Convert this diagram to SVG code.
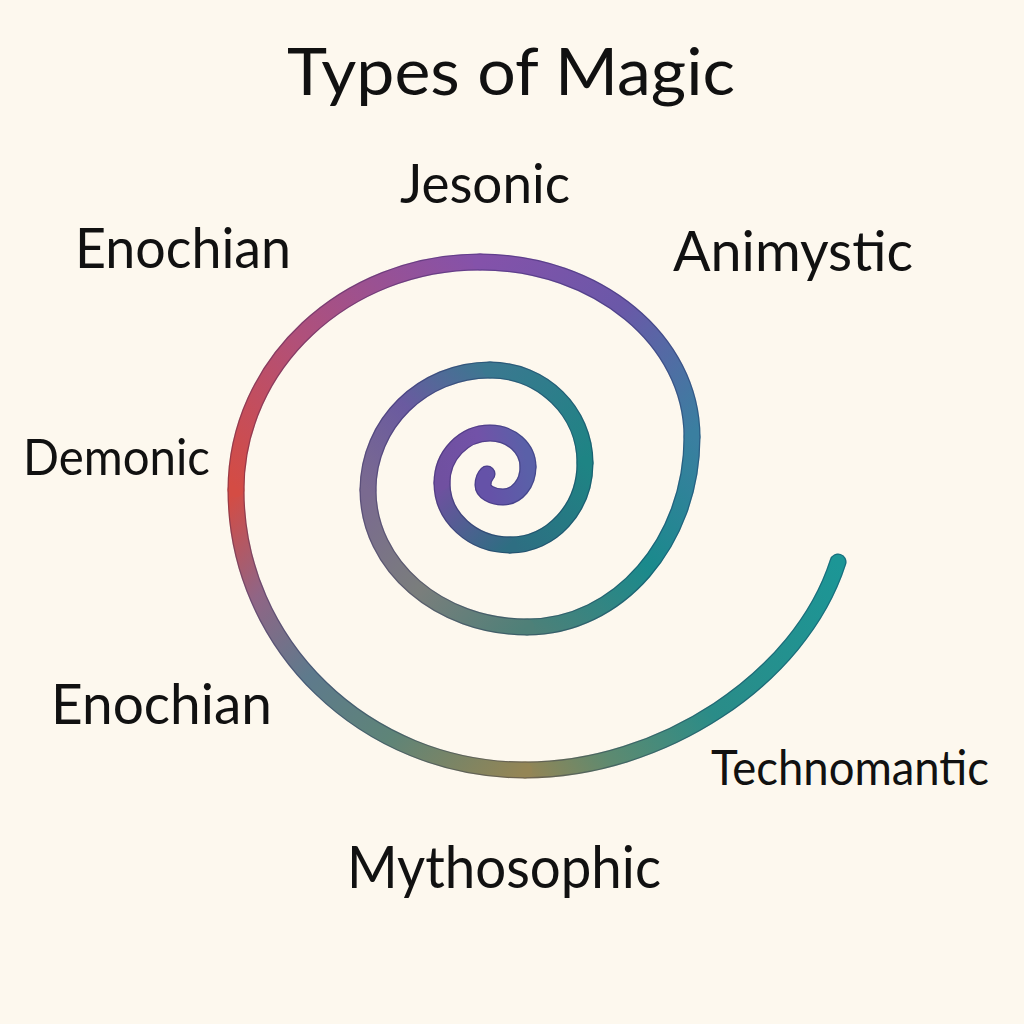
<svg xmlns="http://www.w3.org/2000/svg" width="1024" height="1024" viewBox="0 0 1024 1024">
<defs>
<style>
.lbl{font-family:Lato,"Open Sans","Liberation Sans",sans-serif;fill:#111;}
.seg{fill:none;stroke-linecap:round;stroke-linejoin:round;}
.under{stroke-width:17;}
.shade{stroke:#0a0a40;stroke-opacity:0.28;stroke-width:17;fill:none;stroke-linecap:round;}
.top{stroke-width:14.5;}
</style>
<linearGradient id="g0" gradientUnits="userSpaceOnUse" x1="838" y1="562" x2="525" y2="770"><stop offset="0" stop-color="#1c9696"/><stop offset="0.5" stop-color="#2a8c88"/><stop offset="0.8" stop-color="#5e8a70"/><stop offset="1" stop-color="#948555"/></linearGradient>
<linearGradient id="g1" gradientUnits="userSpaceOnUse" x1="525" y1="770" x2="236" y2="490"><stop offset="0" stop-color="#948555"/><stop offset="0.3" stop-color="#5e8478"/><stop offset="0.55" stop-color="#5e7a8c"/><stop offset="0.78" stop-color="#906585"/><stop offset="1" stop-color="#d44c44"/></linearGradient>
<linearGradient id="g2" gradientUnits="userSpaceOnUse" x1="236" y1="490" x2="480" y2="262"><stop offset="0" stop-color="#d44c44"/><stop offset="0.45" stop-color="#b0507a"/><stop offset="1" stop-color="#8452aa"/></linearGradient>
<linearGradient id="g3" gradientUnits="userSpaceOnUse" x1="480" y1="262" x2="692" y2="437"><stop offset="0" stop-color="#8452aa"/><stop offset="0.5" stop-color="#6a58a8"/><stop offset="1" stop-color="#3a7fa0"/></linearGradient>
<linearGradient id="g4" gradientUnits="userSpaceOnUse" x1="692" y1="437" x2="527" y2="627"><stop offset="0" stop-color="#3a7fa0"/><stop offset="0.5" stop-color="#1a8a8c"/><stop offset="1" stop-color="#4e8078"/></linearGradient>
<linearGradient id="g5" gradientUnits="userSpaceOnUse" x1="527" y1="627" x2="368" y2="490"><stop offset="0" stop-color="#4e8078"/><stop offset="0.5" stop-color="#7a7e7c"/><stop offset="1" stop-color="#7a6a90"/></linearGradient>
<linearGradient id="g6" gradientUnits="userSpaceOnUse" x1="368" y1="490" x2="490" y2="370"><stop offset="0" stop-color="#7a6a90"/><stop offset="0.5" stop-color="#6a5aa0"/><stop offset="1" stop-color="#3a7890"/></linearGradient>
<linearGradient id="g7" gradientUnits="userSpaceOnUse" x1="490" y1="370" x2="585" y2="463"><stop offset="0" stop-color="#3a7890"/><stop offset="1" stop-color="#1e8484"/></linearGradient>
<linearGradient id="g8" gradientUnits="userSpaceOnUse" x1="585" y1="463" x2="510" y2="545"><stop offset="0" stop-color="#1e8484"/><stop offset="1" stop-color="#2e6e82"/></linearGradient>
<linearGradient id="g9" gradientUnits="userSpaceOnUse" x1="510" y1="545" x2="442" y2="483"><stop offset="0" stop-color="#2e6e82"/><stop offset="1" stop-color="#7050a0"/></linearGradient>
<linearGradient id="g10" gradientUnits="userSpaceOnUse" x1="442" y1="483" x2="528" y2="467"><stop offset="0" stop-color="#7050a0"/><stop offset="0.5" stop-color="#7252a8"/><stop offset="1" stop-color="#5a60a8"/></linearGradient>
<linearGradient id="g11" gradientUnits="userSpaceOnUse" x1="528" y1="467" x2="487" y2="474"><stop offset="0" stop-color="#5a60a8"/><stop offset="1" stop-color="#6552a8"/></linearGradient>
<path id="s0" d="M838,562 C800,680 660,770 525,770"/>
<path id="s1" d="M525,770 C365.5,770 236,644.6 236,490"/>
<path id="s2" d="M236,490 C236,364.1 345.3,262 480,262"/>
<path id="s3" d="M480,262 C597,262 692,340.4 692,437"/>
<path id="s4" d="M692,437 C692,541.9 618.1,627 527,627"/>
<path id="s5" d="M527,627 C439.2,627 368,565.6 368,490"/>
<path id="s6" d="M368,490 C368,423.8 422.7,370 490,370"/>
<path id="s7" d="M490,370 C542.4,370 585,411.7 585,463"/>
<path id="s8" d="M585,463 C585,508.3 551.4,545 510,545"/>
<path id="s9" d="M510,545 C472.5,545 442,517.2 442,483"/>
<path id="s10" d="M442,483 C442,455.4 463.5,433 490,433 C511,433 528,448.2 528,467"/>
<path id="s11" d="M528,467 C528,483.6 516.8,497 503,497 C492,497 483,491.6 483,485 C483,480 485,476 487,474"/>
</defs>
<rect width="1024" height="1024" fill="#fdf8ee"/>
<g id="title"><text class="lbl" x="287" y="95" font-size="66" textLength="448" lengthAdjust="spacingAndGlyphs">Types of Magic</text></g>
<g id="spiral">
<g id="spiral-outline">
<use href="#s0" class="seg under" stroke="url(#g0)"/>
<use href="#s1" class="seg under" stroke="url(#g1)"/>
<use href="#s2" class="seg under" stroke="url(#g2)"/>
<use href="#s3" class="seg under" stroke="url(#g3)"/>
<use href="#s4" class="seg under" stroke="url(#g4)"/>
<use href="#s5" class="seg under" stroke="url(#g5)"/>
<use href="#s6" class="seg under" stroke="url(#g6)"/>
<use href="#s7" class="seg under" stroke="url(#g7)"/>
<use href="#s8" class="seg under" stroke="url(#g8)"/>
<use href="#s9" class="seg under" stroke="url(#g9)"/>
<use href="#s10" class="seg under" stroke="url(#g10)"/>
<use href="#s11" class="seg under" stroke="url(#g11)"/>
<path class="shade" d="M838,562 C800,680 660,770 525,770 C365.5,770 236,644.6 236,490 C236,364.1 345.3,262 480,262 C597,262 692,340.4 692,437 C692,541.9 618.1,627 527,627 C439.2,627 368,565.6 368,490 C368,423.8 422.7,370 490,370 C542.4,370 585,411.7 585,463 C585,508.3 551.4,545 510,545 C472.5,545 442,517.2 442,483 C442,455.4 463.5,433 490,433 C511,433 528,448.2 528,467 C528,483.6 516.8,497 503,497 C492,497 483,491.6 483,485 C483,480 485,476 487,474"/>
</g>
<g id="spiral-body">
<use href="#s0" class="seg top" stroke="url(#g0)"/>
<use href="#s1" class="seg top" stroke="url(#g1)"/>
<use href="#s2" class="seg top" stroke="url(#g2)"/>
<use href="#s3" class="seg top" stroke="url(#g3)"/>
<use href="#s4" class="seg top" stroke="url(#g4)"/>
<use href="#s5" class="seg top" stroke="url(#g5)"/>
<use href="#s6" class="seg top" stroke="url(#g6)"/>
<use href="#s7" class="seg top" stroke="url(#g7)"/>
<use href="#s8" class="seg top" stroke="url(#g8)"/>
<use href="#s9" class="seg top" stroke="url(#g9)"/>
<use href="#s10" class="seg top" stroke="url(#g10)"/>
<use href="#s11" class="seg top" stroke="url(#g11)"/>
</g>
</g>
<g id="label-jesonic"><text class="lbl" x="400" y="203" font-size="54" textLength="170" lengthAdjust="spacingAndGlyphs">Jesonic</text></g>
<g id="label-enochian-top"><text class="lbl" x="75" y="268" font-size="56" textLength="216" lengthAdjust="spacingAndGlyphs">Enochian</text></g>
<g id="label-animystic"><text class="lbl" x="673" y="271" font-size="56" textLength="240" lengthAdjust="spacingAndGlyphs">Animystic</text></g>
<g id="label-demonic"><text class="lbl" x="23" y="475" font-size="50" textLength="187" lengthAdjust="spacingAndGlyphs">Demonic</text></g>
<g id="label-enochian-bottom"><text class="lbl" x="51" y="724" font-size="56" textLength="221" lengthAdjust="spacingAndGlyphs">Enochian</text></g>
<g id="label-technomantic"><text class="lbl" x="711" y="785" font-size="48" textLength="278" lengthAdjust="spacingAndGlyphs">Technomantic</text></g>
<g id="label-mythosophic"><text class="lbl" x="347" y="888" font-size="58" textLength="314" lengthAdjust="spacingAndGlyphs">Mythosophic</text></g>
</svg>
